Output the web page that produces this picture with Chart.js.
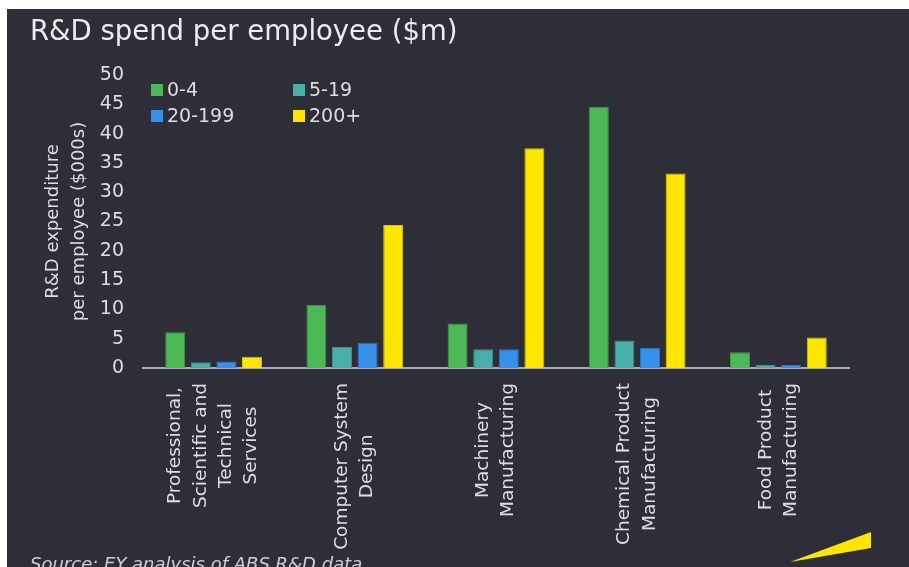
<!DOCTYPE html>
<html>
<head>
<meta charset="utf-8">
<title>R&amp;D spend per employee</title>
<script src="https://cdn.jsdelivr.net/npm/chart.js@4/dist/chart.umd.min.js"></script>
<style>
  html, body { margin: 0; padding: 0; background: #fff; }
  #panel {
    position: absolute; left: 7px; top: 9px;
    width: 902px; height: 558px;
    background: #2e2e38; overflow: hidden;
  }
</style>
</head>
<body>
<div id="panel"><canvas id="rdChart"></canvas></div>
<script>
/* ── Data ────────────────────────────────────────── */
const categories = [
  ['Professional,', 'Scientific and', 'Technical', 'Services'],
  ['Computer System', 'Design'],
  ['Machinery', 'Manufacturing'],
  ['Chemical Product', 'Manufacturing'],
  ['Food Product', 'Manufacturing'],
];
const seriesNames   = ['0-4', '5-19', '20-199', '200+'];
const spend0to4     = [6.1, 10.8, 7.6, 44.6, 2.7];
const spend5to19    = [1.0, 3.6, 3.2, 4.7, 0.5];
const spend20to199  = [1.1, 4.3, 3.2, 3.4, 0.5];
const spend200plus  = [1.9, 24.4, 37.5, 33.2, 5.2];
const yTicks        = [0, 5, 10, 15, 20, 25, 30, 35, 40, 45, 50];

const titleText  = 'R&D spend per employee ($m)';
const yTitle     = ['R&D expenditure', 'per employee ($000s)'];
const sourceText = 'Source: EY analysis of ABS R&D data';

/* ── Styling ─────────────────────────────────────── */
const FONT   = '"DejaVu Sans", Verdana, sans-serif';
const fills  = ['#4db856', '#47aea9', '#3591e9', '#ffe600'];
const edges  = ['#3f9a47', '#3b918d', '#2b78c2', '#d9c400'];
const textCol = '#dedee2';

/* ── Decorations: title, legend, rotated category labels, source, beam ── */
const decor = {
  id: 'decor',
  afterDraw(chart) {
    const ctx = chart.ctx;
    const x = chart.scales.x;
    const area = chart.chartArea;
    ctx.save();

    // title
    ctx.fillStyle = '#ececef';
    ctx.font = '27.5px ' + FONT;
    ctx.textAlign = 'left';
    ctx.textBaseline = 'alphabetic';
    ctx.fillText(titleText, 23, 31);

    // legend, two columns
    ctx.font = '19px ' + FONT;
    ctx.textBaseline = 'middle';
    const colX = [144, 286], rowY = [81, 107];
    chart.data.datasets.forEach((ds, i) => {
      const cx = colX[i % 2], cy = rowY[Math.floor(i / 2)];
      ctx.fillStyle = ds.backgroundColor;
      ctx.fillRect(cx, cy - 6, 12, 12);
      ctx.fillStyle = textCol;
      ctx.fillText(ds.label, cx + 16, cy + 1);
    });

    // category labels, rotated, lines centred in their block
    ctx.font = '18.5px ' + FONT;
    ctx.textAlign = 'center';
    const pitch = 25.3, top = area.bottom + 15;
    chart.data.labels.forEach((lines, i) => {
      const cx = x.getPixelForValue(i);
      const maxW = Math.max(...lines.map(l => ctx.measureText(l).width));
      const cy = top + maxW / 2;
      lines.forEach((line, j) => {
        ctx.save();
        ctx.translate(cx + (j - (lines.length - 1) / 2) * pitch, cy);
        ctx.rotate(-Math.PI / 2);
        ctx.fillText(line, 0, 0);
        ctx.restore();
      });
    });

    // source line (cut off at the bottom like the original)
    ctx.font = 'italic 18px ' + FONT;
    ctx.textAlign = 'left';
    ctx.textBaseline = 'alphabetic';
    ctx.fillStyle = '#d0d0d4';
    ctx.fillText(sourceText, 23, 561);

    // EY beam
    ctx.fillStyle = '#ffe600';
    ctx.beginPath();
    ctx.moveTo(783, 553);
    ctx.lineTo(864, 523);
    ctx.lineTo(864, 539);
    ctx.closePath();
    ctx.fill();

    ctx.restore();
  }
};

/* ── Chart ───────────────────────────────────────── */
const seriesData = [spend0to4, spend5to19, spend20to199, spend200plus];

new Chart(document.getElementById('rdChart'), {
  type: 'bar',
  data: {
    labels: categories,
    datasets: seriesNames.map((name, i) => ({
      label: name,
      data: seriesData[i],
      backgroundColor: fills[i],
      borderColor: edges[i],
      borderWidth: 1,
      categoryPercentage: 0.725,
      barPercentage: 0.78,
    })),
  },
  options: {
    responsive: true,
    maintainAspectRatio: false,
    animation: false,
    layout: { padding: { left: 0, top: 66, right: 60, bottom: 189 } },
    plugins: {
      legend: { display: false },
      title: { display: false },
      tooltip: { enabled: false },
    },
    scales: {
      x: {
        grid: { display: false, drawTicks: false },
        border: { display: true, color: '#a9a9b0', width: 2 },
        ticks: { display: false },
        afterFit: s => { s.height = 10; },
      },
      y: {
        min: 0, max: 50,
        grid: { display: false, drawTicks: false },
        border: { display: false },
        afterBuildTicks: s => { s.ticks = yTicks.map(v => ({ value: v })); },
        ticks: {
          padding: 19,
          color: textCol,
          font: { size: 19, family: FONT },
        },
        title: {
          display: true,
          text: yTitle,
          color: textCol,
          font: { size: 18, family: FONT, lineHeight: 1.45 },
          padding: { top: 33, bottom: 0 },
        },
        afterFit: s => { s.width = 136; },
      },
    },
  },
  plugins: [decor],
});
</script>
</body>
</html>
